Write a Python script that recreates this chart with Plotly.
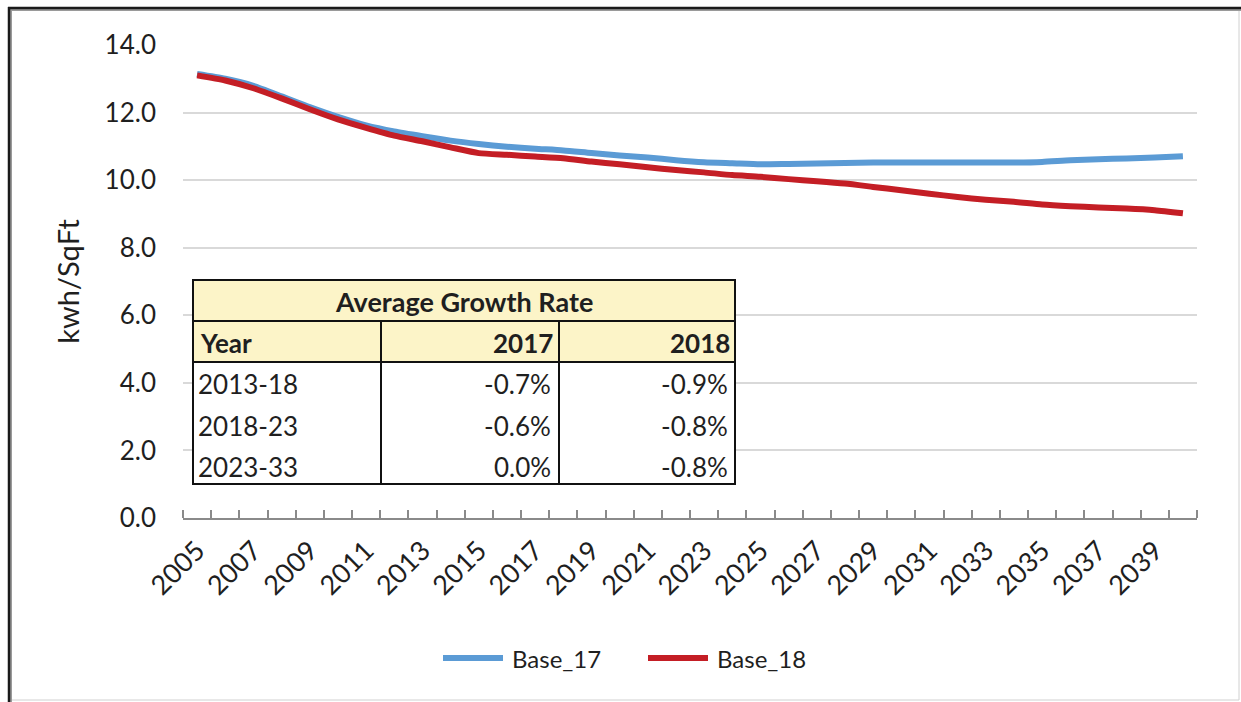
import plotly.graph_objects as go

# Energy intensity forecast, kWh per square foot
years = list(range(2005, 2041))
base_17 = [13.14, 13.00, 12.79, 12.48, 12.16, 11.87, 11.62, 11.44, 11.30, 11.17,
           11.07, 10.99, 10.93, 10.88, 10.80, 10.73, 10.67, 10.59, 10.53, 10.50,
           10.47, 10.48, 10.49, 10.51, 10.52, 10.52, 10.52, 10.52, 10.52, 10.52,
           10.54, 10.59, 10.62, 10.64, 10.67, 10.71]
base_18 = [13.10, 12.95, 12.72, 12.42, 12.10, 11.80, 11.55, 11.32, 11.15, 10.97,
           10.80, 10.75, 10.70, 10.65, 10.55, 10.47, 10.38, 10.30, 10.23, 10.15,
           10.10, 10.03, 9.97, 9.90, 9.80, 9.70, 9.60, 9.50, 9.42, 9.36,
           9.28, 9.23, 9.19, 9.16, 9.11, 9.02]
series_names = ["Base_17", "Base_18"]
y_ticks = [0, 2, 4, 6, 8, 10, 12, 14]
x_label_years = list(range(2005, 2040, 2))

# Growth-rate summary table
table_title = "Average Growth Rate"
table_header = ["Year", "2017", "2018"]
periods = ["2013-18", "2018-23", "2023-33"]
rate_2017 = [-0.7, -0.6, 0.0]
rate_2018 = [-0.9, -0.8, -0.8]

FONT = "Lato, 'Open Sans', sans-serif"
TEXT = "#1f1f1f"
BLUE = "#5B9BD5"
RED = "#C41E25"
colors = [BLUE, RED]

W, H = 1241, 702
L, R, T, B = 183, 1197, 45, 518


def px(x):
    return (x - L) / (R - L)


def py(y):
    return (B - y) / (B - T)


fig = go.Figure()
for name, vals, col in zip(series_names, [base_17, base_18], colors):
    fig.add_trace(go.Scatter(x=years, y=vals, name=name, mode="lines",
                             showlegend=False,
                             line=dict(color=col, width=6, shape="spline", smoothing=0.6)))

shapes = []
annotations = []

# outer chart frame
shapes.append(dict(type="rect", xref="paper", yref="paper",
                   x0=px(9), x1=px(1239), y0=py(8), y1=py(700),
                   line=dict(color="#d0d0d0", width=1), layer="below"))
shapes.append(dict(type="line", xref="paper", yref="paper",
                   x0=px(11), x1=px(11), y0=py(9), y1=py(702),
                   line=dict(color="#9a9a9a", width=2)))
shapes.append(dict(type="line", xref="paper", yref="paper",
                   x0=px(10), x1=px(1241), y0=py(10), y1=py(10),
                   line=dict(color="#9a9a9a", width=2)))
shapes.append(dict(type="line", xref="paper", yref="paper",
                   x0=px(9), x1=px(9), y0=py(7), y1=py(702),
                   line=dict(color="#1a1a1a", width=2.5)))
shapes.append(dict(type="line", xref="paper", yref="paper",
                   x0=px(8), x1=px(1241), y0=py(8), y1=py(8),
                   line=dict(color="#1a1a1a", width=2.5)))

# summary table
tx0, tx1 = 193, 735
ty0, ty_title, ty_head, ty1 = 280, 321, 362, 484
cx1, cx2 = 381, 559
YELLOW = "#FCF4C8"
shapes.append(dict(type="rect", xref="paper", yref="paper",
                   x0=px(tx0), x1=px(tx1), y0=py(ty_head), y1=py(ty1),
                   fillcolor="white", line=dict(width=0), layer="above"))
shapes.append(dict(type="rect", xref="paper", yref="paper",
                   x0=px(tx0), x1=px(tx1), y0=py(ty0), y1=py(ty_head),
                   fillcolor=YELLOW, line=dict(width=0), layer="above"))
for yy in (ty_title, ty_head):
    shapes.append(dict(type="line", xref="paper", yref="paper",
                       x0=px(tx0), x1=px(tx1), y0=py(yy), y1=py(yy),
                       line=dict(color="#111", width=2), layer="above"))
for xx in (cx1, cx2):
    shapes.append(dict(type="line", xref="paper", yref="paper",
                       x0=px(xx), x1=px(xx), y0=py(ty_title), y1=py(ty1),
                       line=dict(color="#111", width=2), layer="above"))
shapes.append(dict(type="rect", xref="paper", yref="paper",
                   x0=px(tx0), x1=px(tx1), y0=py(ty0), y1=py(ty1),
                   line=dict(color="#111", width=2), layer="above"))


def text_at(text, x, y, anchor, size=26, bold=False):
    annotations.append(dict(text=f"<b>{text}</b>" if bold else text,
                            xref="paper", yref="paper", x=px(x), y=py(y),
                            xanchor=anchor, yanchor="middle", showarrow=False,
                            font=dict(family=FONT, size=size, color=TEXT)))


text_at(table_title, (tx0 + tx1) / 2, (ty0 + ty_title) / 2 + 1, "center", size=27, bold=True)
text_at(table_header[0], tx0 + 5, (ty_title + ty_head) / 2 + 1, "left", bold=True)
text_at(table_header[1], cx2 - 4, (ty_title + ty_head) / 2 + 1, "right", bold=True)
text_at(table_header[2], tx1 - 3, (ty_title + ty_head) / 2 + 1, "right", bold=True)
row_y = [384, 426, 467]
for yy, p, a, b in zip(row_y, periods, rate_2017, rate_2018):
    text_at(p, tx0 + 3, yy, "left")
    text_at(f"{a:.1f}%", cx2 - 6, yy, "right")
    text_at(f"{b:.1f}%", tx1 - 5, yy, "right")

# legend below the axis: line sample followed by series name
legend_y = 658
legend_x = [440, 645]
for name, col, lx in zip(series_names, colors, legend_x):
    shapes.append(dict(type="line", xref="paper", yref="paper",
                       x0=px(lx + 3), x1=px(lx + 63), y0=py(legend_y), y1=py(legend_y),
                       line=dict(color=col, width=6)))
    text_at(name, lx + 70, legend_y, "left", size=24)

fig.update_layout(
    width=W, height=H,
    margin=dict(l=L, r=W - R, t=T, b=H - B),
    paper_bgcolor="white", plot_bgcolor="white",
    font=dict(family=FONT, size=26, color=TEXT),
    shapes=shapes, annotations=annotations,
    showlegend=False,
)

fig.update_yaxes(
    range=[0, 14], tickvals=y_ticks, tickformat=".1f",
    showgrid=True, gridcolor="#D9D9D9", gridwidth=2,
    zeroline=False, showline=False, ticks="",
    ticklabelstandoff=26,
    title=dict(text="kwh/SqFt", font=dict(family=FONT, size=29, color=TEXT), standoff=16),
)

fig.update_xaxes(
    range=[2004.5, 2040.5],
    tickmode="array", tickvals=x_label_years,
    ticktext=[str(y) for y in x_label_years],
    tickangle=-45, ticks="", showgrid=False, zeroline=False,
    tickfont=dict(family=FONT, size=27, color=TEXT),
    ticklabelstandoff=4,
    showline=True, linecolor="#8a8a8a", linewidth=2,
    minor=dict(tickmode="array",
               tickvals=[y - 0.5 for y in years] + [years[-1] + 0.5],
               ticks="inside", ticklen=8, tickwidth=2, tickcolor="#8a8a8a",
               showgrid=False),
)

fig.write_html("out.html")
